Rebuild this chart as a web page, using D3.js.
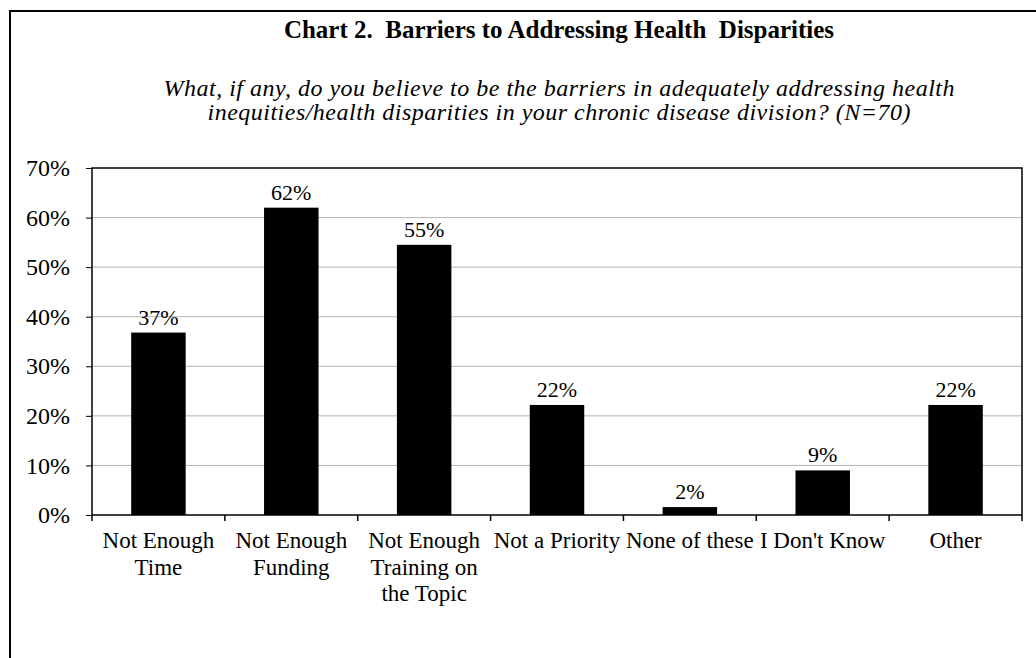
<!DOCTYPE html>
<html>
<head>
<meta charset="utf-8">
<script src="https://cdn.jsdelivr.net/npm/d3@7"></script>
<style>
  body { margin: 0; background: #fff; }
  text { font-family: "Liberation Serif", "Times New Roman", serif; fill: #000; }
</style>
</head>
<body>
<div id="chart"></div>
<script>
// chart values
var categories = ["Not Enough\nTime", "Not Enough\nFunding", "Not Enough\nTraining on\nthe Topic",
    "Not a Priority", "None of these", "I Don't Know", "Other"];
var values = [0.368, 0.62, 0.545, 0.222, 0.016, 0.09, 0.222];
var valueLabels = ["37%", "62%", "55%", "22%", "2%", "9%", "22%"];
var yTicks = [0, 0.1, 0.2, 0.3, 0.4, 0.5, 0.6, 0.7];

var W = 1036, H = 658;
var plot = { left: 92, right: 1022, top: 168, bottom: 515 };

var svg = d3.select("#chart")
    .append("svg")
    .attr("width", W)
    .attr("height", H);

svg.append("rect").attr("width", W).attr("height", H).attr("fill", "#fff");

// outer frame (runs off the picture on right and bottom)
svg.append("rect")
    .attr("x", 10).attr("y", 11)
    .attr("width", W + 20).attr("height", H + 20)
    .attr("fill", "none").attr("stroke", "#000").attr("stroke-width", 2);

// title + question
svg.append("text")
    .attr("x", 559).attr("y", 38)
    .attr("text-anchor", "middle")
    .attr("xml:space", "preserve")
    .style("font-size", "25px").style("font-weight", "bold")
    .text("Chart 2.  Barriers to Addressing Health  Disparities");

var sub = ["What, if any, do you believe to be the barriers in adequately addressing health",
    "inequities/health disparities in your chronic disease division? (N=70)"];
var subWidth = [791, 703];
svg.append("g").selectAll("text")
    .data(sub)
    .enter().append("text")
    .attr("x", 559)
    .attr("y", function (d, i) { return 96 + i * 24; })
    .attr("text-anchor", "middle")
    .attr("textLength", function (d, i) { return subWidth[i]; })
    .attr("lengthAdjust", "spacing")
    .style("font-size", "24px").style("font-style", "italic")
    .text(function (d) { return d; });

var x = d3.scaleBand()
    .domain(categories)
    .range([plot.left, plot.right])
    .paddingInner(0.59)
    .paddingOuter(0.295);

var y = d3.scaleLinear()
    .domain([0, 0.7])
    .range([plot.bottom, plot.top]);

// gridlines
svg.append("g")
    .selectAll("line")
    .data(yTicks.slice(1, -1))
    .enter().append("line")
    .attr("x1", plot.left).attr("x2", plot.right)
    .attr("y1", function (d) { return y(d); })
    .attr("y2", function (d) { return y(d); })
    .attr("stroke", "#b4b4b4").attr("stroke-width", 1);

// y axis
var yAxis = svg.append("g")
    .attr("transform", "translate(" + plot.left + ",0)")
    .call(d3.axisLeft(y).tickValues(yTicks).tickSize(6).tickPadding(16).tickFormat(d3.format(".0%")));
yAxis.select(".domain").remove();
yAxis.selectAll("line").attr("stroke", "#000");
yAxis.selectAll("text").style("font-size", "24px")
    .style("font-family", "'Liberation Serif', serif").attr("fill", "#000");

// bars
svg.append("g")
    .selectAll("rect")
    .data(values)
    .enter().append("rect")
    .attr("x", function (d, i) { return x(categories[i]); })
    .attr("y", function (d) { return y(d); })
    .attr("width", x.bandwidth())
    .attr("height", function (d) { return y(0) - y(d); })
    .attr("fill", "#000");

// value labels
svg.append("g")
    .selectAll("text")
    .data(values)
    .enter().append("text")
    .attr("x", function (d, i) { return x(categories[i]) + x.bandwidth() / 2; })
    .attr("y", function (d) { return y(d) - 8; })
    .attr("text-anchor", "middle")
    .style("font-size", "22px")
    .text(function (d, i) { return valueLabels[i]; });

// plot border
svg.append("rect")
    .attr("x", plot.left).attr("y", plot.top)
    .attr("width", plot.right - plot.left)
    .attr("height", plot.bottom - plot.top)
    .attr("fill", "none").attr("stroke", "#000").attr("stroke-width", 1.5);

// x ticks at band edges
var edges = d3.range(categories.length + 1).map(function (i) { return plot.left + i * x.step(); });
svg.append("g")
    .selectAll("line")
    .data(edges)
    .enter().append("line")
    .attr("x1", function (d) { return d; }).attr("x2", function (d) { return d; })
    .attr("y1", plot.bottom).attr("y2", plot.bottom + 6)
    .attr("stroke", "#000").attr("stroke-width", 1.5);

// category labels, wrapped
var catText = svg.append("g")
    .selectAll("text")
    .data(categories)
    .enter().append("text")
    .attr("text-anchor", "middle")
    .style("font-size", "23px");
catText.selectAll("tspan")
    .data(function (d) { return d.split("\n").map(function (s) { return { s: s, c: d }; }); })
    .enter().append("tspan")
    .attr("x", function (d) { return x(d.c) + x.bandwidth() / 2; })
    .attr("y", function (d, i) { return 548 + i * 26.7; })
    .text(function (d) { return d.s; });
</script>
</body>
</html>
